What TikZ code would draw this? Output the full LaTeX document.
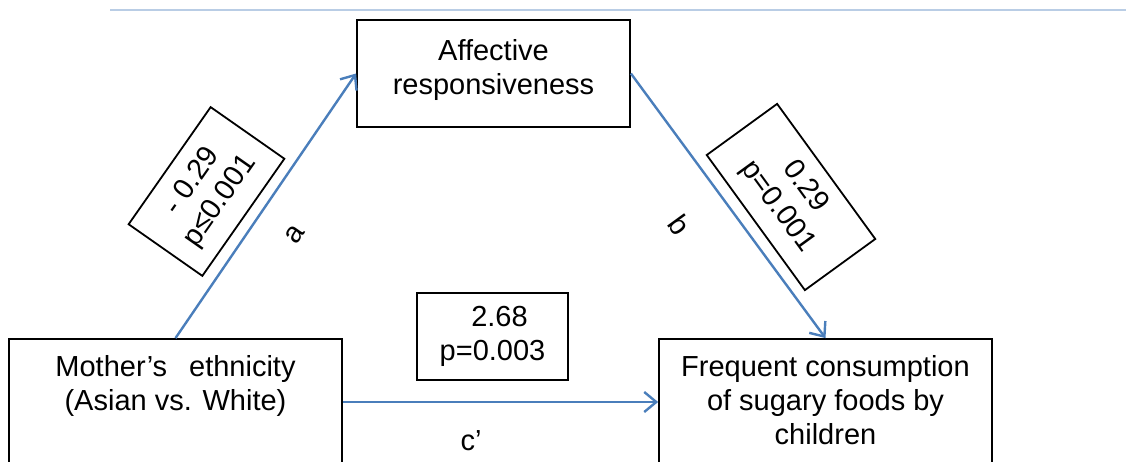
\documentclass[tikz,border=0pt]{standalone}
\usepackage{fontspec}
\setmainfont{Liberation Sans}
\usetikzlibrary{arrows.meta}
\definecolor{linkblue}{HTML}{4A7EBB}
\definecolor{rulecolor}{HTML}{B9CDE5}
\begin{document}
\begin{tikzpicture}[x=1pt,y=-1pt,
  box/.style={draw=black, line width=1.8pt, rectangle, inner sep=0pt},
  txt/.style={font=\fontsize{29}{34}\selectfont, align=center, inner sep=0pt},
  stat/.style={draw=black, line width=1.8pt, rectangle, inner sep=0pt,
    font=\fontsize{29}{34}\selectfont, align=center},
  link/.style={draw=linkblue, line width=2.4pt,
    -{Straight Barb[length=12pt,width=20pt]}},
]
\clip (0,0) rectangle (1126,462);

% header rule
\draw[rulecolor, line width=2pt] (110,10) -- (1126,10);

% variable boxes
\node[box, minimum width=273, minimum height=107] (aff) at (493.5,73.5) {};
\node[box, minimum width=333, minimum height=126] (mother) at (175.5,402) {};
\node[box, minimum width=333, minimum height=126] (freq) at (825.5,402) {};

\node[txt, anchor=north] (afftxt) at (493.5,39) {Affective\\responsiveness};
\node[txt, anchor=north] (mothertxt) at (175.5,355) {Mother’s\hspace{22pt}ethnicity\\(Asian vs. White)};
\node[txt, anchor=north] (freqtxt) at (825.5,355) {Frequent consumption\\of sugary foods by\\children};

% paths
\draw[link] (mother.north) -- (aff.west);
\draw[link] (aff.east) -- (freq.north);
\draw[link] (mother.east) -- (freq.west);

% path coefficients
\node[stat, rotate=55, minimum width=143, minimum height=90] (sa) at (206.5,191.5) {- 0.29\\p≤0.001};
\node[stat, rotate=-54, minimum width=167, minimum height=87] (sb) at (791,197) {0.29\\p=0.001};
\node[stat, minimum width=151, minimum height=87] (sc) at (492.5,336.5) {\hspace{14pt}2.68\\p=0.003};

% path labels
\node[txt, rotate=55] (la) at (295,235) {a};
\node[txt, rotate=-54] (lb) at (680,225) {b};
\node[txt] (lc) at (471,441) {c’};
\end{tikzpicture}
\end{document}
